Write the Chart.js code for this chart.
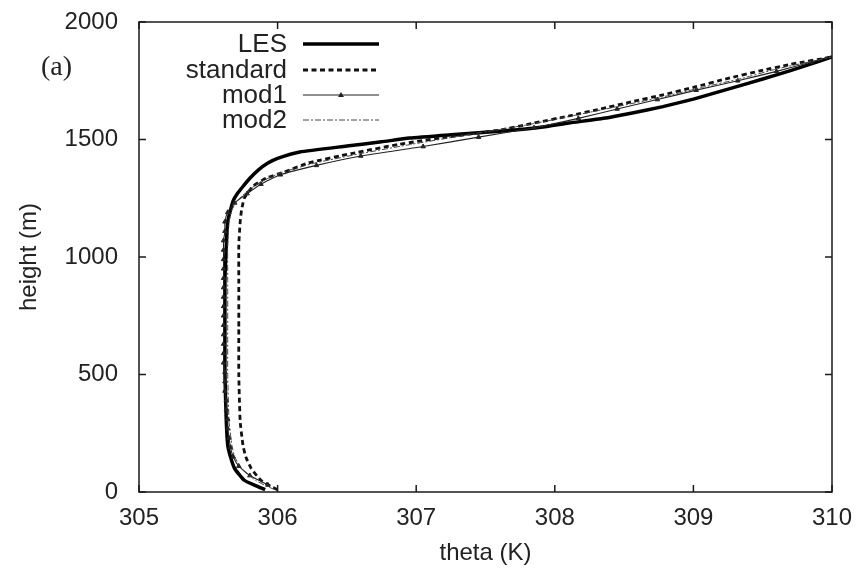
<!DOCTYPE html>
<html>
<head>
<meta charset="utf-8">
<script src="https://cdn.jsdelivr.net/npm/chart.js@4.4.1/dist/chart.umd.min.js"></script>
<style>
  html, body { margin: 0; padding: 0; background: #fff; }
  #wrap { width: 859px; height: 570px; }
</style>
</head>
<body>
<div id="wrap"><canvas id="c" width="859" height="570"></canvas></div>
<script>
// ---- data (theta in K, height in m) ----
const xTicks = [305, 306, 307, 308, 309, 310];
const yTicks = [0, 500, 1000, 1500, 2000];
const seriesNames = ["LES", "standard", "mod1", "mod2"];

const lesHeight = [10, 25, 50, 100, 150, 200, 300, 500, 700, 900, 1050, 1150, 1200, 1240, 1270, 1300, 1335, 1370, 1400, 1420, 1447, 1472, 1490, 1506, 1520, 1535, 1552, 1570, 1590, 1612, 1640, 1672, 1706, 1740, 1775, 1812, 1851];
const lesTheta  = [305.91, 305.85, 305.76, 305.69, 305.66, 305.64, 305.63, 305.62, 305.62, 305.62, 305.63, 305.64, 305.66, 305.68, 305.71, 305.75, 305.80, 305.86, 305.93, 306.0, 306.16, 306.5, 306.75, 306.95, 307.25, 307.6, 307.9, 308.1, 308.35, 308.55, 308.78, 309.0, 309.2, 309.4, 309.6, 309.8, 310.0];

const stdHeight = [10, 25, 50, 100, 150, 200, 300, 500, 700, 900, 1050, 1150, 1200, 1250, 1300, 1336, 1362, 1400, 1440, 1480, 1510, 1540, 1570, 1600, 1630, 1660, 1690, 1722, 1760, 1792, 1820, 1851];
const stdTheta  = [306.0, 305.95, 305.88, 305.81, 305.77, 305.75, 305.73, 305.72, 305.72, 305.72, 305.72, 305.73, 305.74, 305.76, 305.82, 305.92, 306.05, 306.22, 306.53, 306.88, 307.22, 307.6, 307.85, 308.1, 308.33, 308.55, 308.78, 309.0, 309.25, 309.48, 309.7, 310.0];

const mod1Height = [30, 70, 110, 150, 190, 230, 270, 310, 350, 390, 430, 470, 510, 550, 590, 630, 670, 710, 750, 790, 830, 870, 910, 950, 990, 1030, 1070, 1110, 1150, 1190, 1230, 1270, 1310, 1350, 1390, 1430, 1470, 1510, 1550, 1590, 1630, 1670, 1710, 1750, 1790, 1830, 1870];
const mod1Theta  = [305.93, 305.80, 305.72, 305.68, 305.66, 305.65, 305.64, 305.64, 305.63, 305.63, 305.62, 305.62, 305.62, 305.61, 305.61, 305.61, 305.61, 305.61, 305.61, 305.61, 305.61, 305.61, 305.61, 305.61, 305.61, 305.61, 305.61, 305.62, 305.62, 305.64, 305.69, 305.78, 305.88, 306.02, 306.28, 306.60, 307.05, 307.45, 307.85, 308.17, 308.45, 308.74, 309.02, 309.32, 309.6, 309.85, 310.1];

const mod2Height = [10, 25, 50, 100, 150, 200, 300, 500, 700, 900, 1050, 1150, 1200, 1240, 1280, 1320, 1360, 1400, 1440, 1480, 1520, 1560, 1600, 1640, 1680, 1720, 1760, 1800, 1851];
const mod2Theta  = [305.98, 305.92, 305.84, 305.74, 305.69, 305.67, 305.65, 305.64, 305.64, 305.64, 305.64, 305.65, 305.67, 305.71, 305.78, 305.88, 306.03, 306.27, 306.6, 306.97, 307.37, 307.78, 308.12, 308.45, 308.77, 309.05, 309.35, 309.6, 310.0];

function pts(xs, ys) { return xs.map((x, i) => ({ x: x, y: ys[i] })); }

const INK = '#1a1a1a';
const FONT = '"Liberation Sans", Arial, sans-serif';
const styles = [
  { color: '#000', width: 3.5, dash: [], marker: false },
  { color: '#111', width: 2.8, dash: [5, 3.5], marker: false },
  { color: '#222', width: 1.1, dash: [], marker: true },
  { color: '#444', width: 1.0, dash: [6, 2, 2, 2], marker: false }
];

const datasets = [
  { label: seriesNames[0], data: pts(lesTheta, lesHeight) },
  { label: seriesNames[1], data: pts(stdTheta, stdHeight) },
  { label: seriesNames[2], data: pts(mod1Theta, mod1Height) },
  { label: seriesNames[3], data: pts(mod2Theta, mod2Height) }
].map((d, i) => Object.assign(d, {
  showLine: true,
  borderColor: styles[i].color,
  backgroundColor: styles[i].color,
  borderWidth: styles[i].width,
  borderDash: styles[i].dash,
  pointRadius: styles[i].marker ? 2.6 : 0,
  pointStyle: 'triangle',
  pointBorderWidth: 1,
  tension: 0.15,
  order: 3 - i
}));

const frame = {
  id: 'frame',
  afterDraw(chart) {
    const ctx = chart.ctx;
    const a = chart.chartArea;
    const xs = chart.scales.x, ys = chart.scales.y;
    ctx.save();
    ctx.strokeStyle = INK;
    ctx.lineWidth = 1.5;
    ctx.setLineDash([]);
    ctx.strokeRect(a.left, a.top, a.right - a.left, a.bottom - a.top);
    const tl = 7;
    ctx.beginPath();
    xTicks.forEach(v => {
      const px = xs.getPixelForValue(v);
      ctx.moveTo(px, a.bottom); ctx.lineTo(px, a.bottom - tl);
      ctx.moveTo(px, a.top); ctx.lineTo(px, a.top + tl);
    });
    yTicks.forEach(v => {
      const py = ys.getPixelForValue(v);
      ctx.moveTo(a.left, py); ctx.lineTo(a.left + tl, py);
      ctx.moveTo(a.right, py); ctx.lineTo(a.right - tl, py);
    });
    ctx.stroke();

    // legend
    const rows = [44, 70, 95, 120];
    const tx = 287, x0 = 303, x1 = 379;
    ctx.font = '26px ' + FONT;
    ctx.textAlign = 'right';
    ctx.textBaseline = 'middle';
    seriesNames.forEach((name, i) => {
      const y = rows[i];
      ctx.fillStyle = '#222';
      ctx.fillText(name, tx, y + 1);
      const s = styles[i];
      ctx.strokeStyle = s.color;
      ctx.lineWidth = s.width;
      ctx.setLineDash(s.dash);
      ctx.beginPath();
      ctx.moveTo(x0, y); ctx.lineTo(x1, y);
      ctx.stroke();
      ctx.setLineDash([]);
      if (s.marker) {
        const mx = (x0 + x1) / 2, r = 3;
        ctx.fillStyle = s.color;
        ctx.beginPath();
        ctx.moveTo(mx, y - r);
        ctx.lineTo(mx + r, y + r * 0.7);
        ctx.lineTo(mx - r, y + r * 0.7);
        ctx.closePath();
        ctx.fill();
      }
    });

    // panel label
    ctx.font = '28px "Liberation Serif", "Times New Roman", serif';
    ctx.textAlign = 'left';
    ctx.fillStyle = '#222';
    ctx.fillText('(a)', 41, 68);
    ctx.restore();
  }
};

function noPad(s) { s.paddingTop = 0; s.paddingBottom = 0; s.paddingLeft = 0; s.paddingRight = 0; }

new Chart(document.getElementById('c'), {
  type: 'scatter',
  data: { datasets: datasets },
  options: {
    responsive: false,
    animation: false,
    devicePixelRatio: 1,
    layout: { padding: { top: 22, right: 27, left: 0, bottom: 0 } },
    plugins: { legend: { display: false }, tooltip: { enabled: false } },
    scales: {
      x: {
        type: 'linear', min: 305, max: 310,
        afterBuildTicks: s => { s.ticks = xTicks.map(v => ({ value: v })); },
        afterFit: s => { s.height = 78; noPad(s); },
        grid: { display: false, drawTicks: false },
        border: { display: false },
        ticks: { color: '#222', padding: 12, font: { size: 24, family: FONT }, maxRotation: 0, callback: v => String(v) },
        title: { display: true, text: 'theta (K)', color: '#222', padding: { top: 0, bottom: 2 }, font: { size: 24, family: FONT } }
      },
      y: {
        type: 'linear', min: 0, max: 2000,
        afterBuildTicks: s => { s.ticks = yTicks.map(v => ({ value: v })); },
        afterFit: s => { s.width = 139; noPad(s); },
        grid: { display: false, drawTicks: false },
        border: { display: false },
        ticks: { color: '#222', padding: 21, font: { size: 24, family: FONT }, callback: v => String(v) },
        title: { display: true, text: 'height (m)', color: '#222', padding: { top: 15, bottom: 0 }, font: { size: 24, family: FONT } }
      }
    }
  },
  plugins: [frame]
});
</script>
</body>
</html>
